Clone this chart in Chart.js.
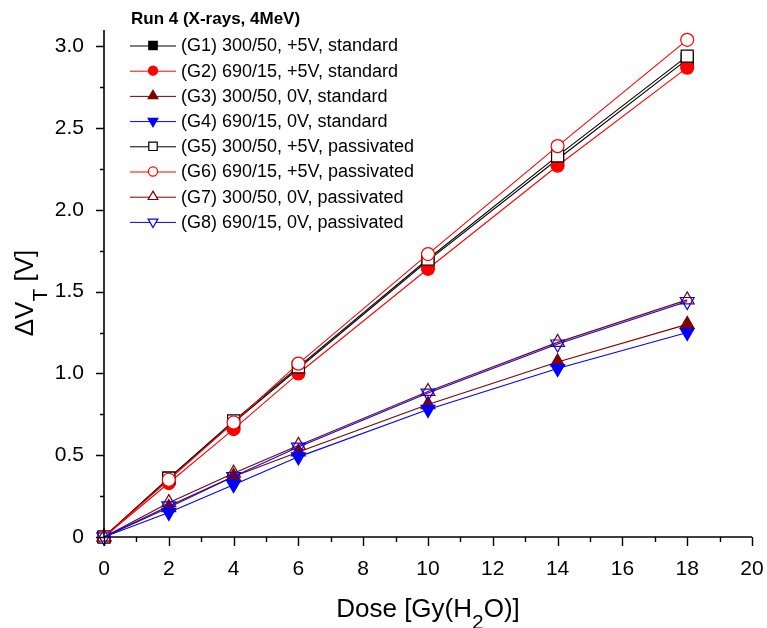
<!DOCTYPE html>
<html>
<head>
<meta charset="utf-8">
<script src="https://cdn.jsdelivr.net/npm/chart.js@4"></script>
<style>
  body { margin: 0; background: #fff; }
  #wrap { width: 767px; height: 628px; }
</style>
</head>
<body>
<div id="wrap"><canvas id="myChart" width="767" height="628"></canvas></div>
<script>
// dose points [Gy(H2O)]
const doses = [0, 2, 4, 6, 10, 14, 18];

// threshold voltage shift [V] per group
const g1 = [0, 0.36, 0.70, 1.03, 1.69, 2.31, 2.92];
const g2 = [0, 0.33, 0.66, 1.00, 1.64, 2.27, 2.87];
const g3 = [0, 0.18, 0.37, 0.52, 0.81, 1.07, 1.30];
const g4 = [0, 0.15, 0.32, 0.49, 0.78, 1.03, 1.25];
const g5 = [0, 0.36, 0.71, 1.04, 1.70, 2.33, 2.94];
const g6 = [0, 0.35, 0.70, 1.06, 1.73, 2.39, 3.04];
const g7 = [0, 0.21, 0.39, 0.56, 0.89, 1.19, 1.45];
const g8 = [0, 0.19, 0.37, 0.55, 0.88, 1.18, 1.44];

const yTicks = [0, 0.5, 1.0, 1.5, 2.0, 2.5, 3.0];

const labels = [
  '(G1) 300/50, +5V, standard',
  '(G2) 690/15, +5V, standard',
  '(G3) 300/50, 0V, standard',
  '(G4) 690/15, 0V, standard',
  '(G5) 300/50, +5V, passivated',
  '(G6) 690/15, +5V, passivated',
  '(G7) 300/50, 0V, passivated',
  '(G8) 690/15, 0V, passivated'
];
const legendTitle = 'Run 4 (X-rays, 4MeV)';
const xTitle = ['Dose [Gy(H', '2', 'O)]'];
const yTitle = ['\u0394V', 'T', ' [V]'];

const FONT = '"Liberation Sans", Arial, sans-serif';
const WINE = '#800000';

const styles = [
  { color: '#000', shape: 'rect', rot: 0, filled: true, r: 8.5 },
  { color: '#f00', shape: 'circle', rot: 0, filled: true, r: 6.5 },
  { color: WINE, shape: 'triangle', rot: 0, filled: true, r: 8 },
  { color: '#00f', shape: 'triangle', rot: 180, filled: true, r: 8 },
  { color: '#000', shape: 'rect', rot: 0, filled: false, r: 8.5 },
  { color: '#f00', shape: 'circle', rot: 0, filled: false, r: 6.5 },
  { color: WINE, shape: 'triangle', rot: 0, filled: false, r: 8 },
  { color: '#00f', shape: 'triangle', rot: 180, filled: false, r: 8 }
];

const series = [g1, g2, g3, g4, g5, g6, g7, g8];

function openFill(s) {
  // squares and circles are white inside, open triangles see-through
  return s.shape === 'triangle' ? 'rgba(255,255,255,0)' : '#fff';
}

const datasets = series.map((vals, i) => {
  const s = styles[i];
  return {
    label: labels[i],
    data: doses.map((d, j) => ({ x: d, y: vals[j] })),
    borderColor: s.color,
    borderWidth: 1.1,
    backgroundColor: s.color,
    pointStyle: s.shape,
    pointRotation: s.rot,
    pointRadius: s.r,
    pointBackgroundColor: s.filled ? s.color : openFill(s),
    pointBorderColor: s.color,
    pointBorderWidth: 1.2,
    tension: 0,
    clip: false,
    order: 8 - i
  };
});

function drawSubText(ctx, parts, size, x, y, align, drop) {
  // parts: [normal, subscript, normal]
  const sub = Math.round(size * 0.8);
  ctx.font = size + 'px ' + FONT;
  const w0 = ctx.measureText(parts[0]).width;
  const w2 = ctx.measureText(parts[2]).width;
  ctx.font = sub + 'px ' + FONT;
  const w1 = ctx.measureText(parts[1]).width;
  const total = w0 + w1 + w2;
  let cx = align === 'center' ? x - total / 2 : x;
  ctx.textAlign = 'left';
  ctx.textBaseline = 'alphabetic';
  ctx.font = size + 'px ' + FONT;
  ctx.fillText(parts[0], cx, y);
  cx += w0;
  ctx.font = sub + 'px ' + FONT;
  ctx.fillText(parts[1], cx, y + size * drop);
  cx += w1;
  ctx.font = size + 'px ' + FONT;
  ctx.fillText(parts[2], cx, y);
}

function legendMarker(ctx, s, cx, cy) {
  const r = s.r * 0.7;
  ctx.fillStyle = s.filled ? s.color : '#fff';
  ctx.strokeStyle = s.color;
  ctx.lineWidth = 1.2;
  ctx.beginPath();
  if (s.shape === 'rect') {
    const h = r * Math.SQRT1_2;
    ctx.rect(cx - h, cy - h, 2 * h, 2 * h);
  } else if (s.shape === 'circle') {
    ctx.arc(cx, cy, r, 0, Math.PI * 2);
  } else {
    const sg = s.rot ? -1 : 1;
    ctx.moveTo(cx, cy - sg * r);
    ctx.lineTo(cx + r * 0.866, cy + sg * r * 0.5);
    ctx.lineTo(cx - r * 0.866, cy + sg * r * 0.5);
    ctx.closePath();
  }
  ctx.fill();
  ctx.stroke();
}

const originAxes = {
  id: 'originAxes',
  afterDraw(chart) {
    const { ctx, chartArea, scales } = chart;
    const x = scales.x, y = scales.y;
    const x0 = chartArea.left, yb = chartArea.bottom;
    ctx.save();
    ctx.strokeStyle = '#000';
    ctx.fillStyle = '#000';
    ctx.lineWidth = 1.6;
    ctx.beginPath();
    ctx.moveTo(x0, chartArea.top);
    ctx.lineTo(x0, yb);
    ctx.lineTo(chartArea.right, yb);
    ctx.stroke();

    ctx.lineWidth = 1.4;
    ctx.beginPath();
    for (let v = 0; v <= 3.0001; v += 0.25) {
      const py = Math.round(y.getPixelForValue(v)) + 0.5;
      const major = Math.abs(v * 2 - Math.round(v * 2)) < 1e-6;
      ctx.moveTo(x0, py);
      ctx.lineTo(x0 - (major ? 8 : 4), py);
    }
    for (let v = 0; v <= 20; v += 1) {
      const px = Math.round(x.getPixelForValue(v)) + 0.5;
      const major = v % 2 === 0;
      ctx.moveTo(px, yb);
      ctx.lineTo(px, yb + (major ? 9 : 5));
    }
    ctx.stroke();

    // axis titles
    drawSubText(ctx, xTitle, 26, (chartArea.left + chartArea.right) / 2, 617, 'center', 0.45);
    ctx.save();
    ctx.translate(33, 293);
    ctx.rotate(-Math.PI / 2);
    drawSubText(ctx, yTitle, 26, 0, 0, 'center', 0.55);
    ctx.restore();

    // legend
    ctx.textAlign = 'left';
    ctx.textBaseline = 'middle';
    ctx.font = 'bold 17px ' + FONT;
    ctx.fillText(legendTitle, 131, 19);
    ctx.font = '18px ' + FONT;
    chart.data.datasets.forEach((ds, i) => {
      const s = styles[i];
      const ry = 45.5 + i * 25.2;
      ctx.strokeStyle = s.color;
      ctx.lineWidth = 1;
      ctx.beginPath();
      ctx.moveTo(130, ry + 0.5);
      ctx.lineTo(176, ry + 0.5);
      ctx.stroke();
      legendMarker(ctx, s, 153, ry);
      ctx.fillStyle = '#000';
      ctx.fillText(ds.label, 181, ry + 1);
    });
    ctx.restore();
  }
};

const ctx = document.getElementById('myChart');

new Chart(ctx, {
  type: 'line',
  data: { datasets: datasets },
  options: {
    responsive: false,
    animation: false,
    layout: { padding: { left: 0, top: 30, right: 15, bottom: 0 } },
    plugins: {
      legend: { display: false },
      tooltip: { enabled: false }
    },
    scales: {
      x: {
        type: 'linear',
        min: 0,
        max: 20,
        afterFit: (s) => {
          s.height = 91;
          s.paddingLeft = 0;
          s.paddingRight = 0;
        },
        grid: { display: false },
        border: { display: false },
        ticks: {
          stepSize: 2,
          padding: 12,
          color: '#000',
          font: { family: FONT, size: 21 }
        }
      },
      y: {
        min: 0,
        max: 3.1,
        afterFit: (s) => { s.width = 104; },
        afterBuildTicks: (s) => {
          s.ticks = yTicks.map(v => ({ value: v }));
        },
        grid: { display: false },
        border: { display: false },
        ticks: {
          padding: 12,
          color: '#000',
          font: { family: FONT, size: 21 },
          callback: (v) => v === 0 ? '0' : v.toFixed(1)
        }
      }
    }
  },
  plugins: [originAxes]
});
</script>
</body>
</html>
